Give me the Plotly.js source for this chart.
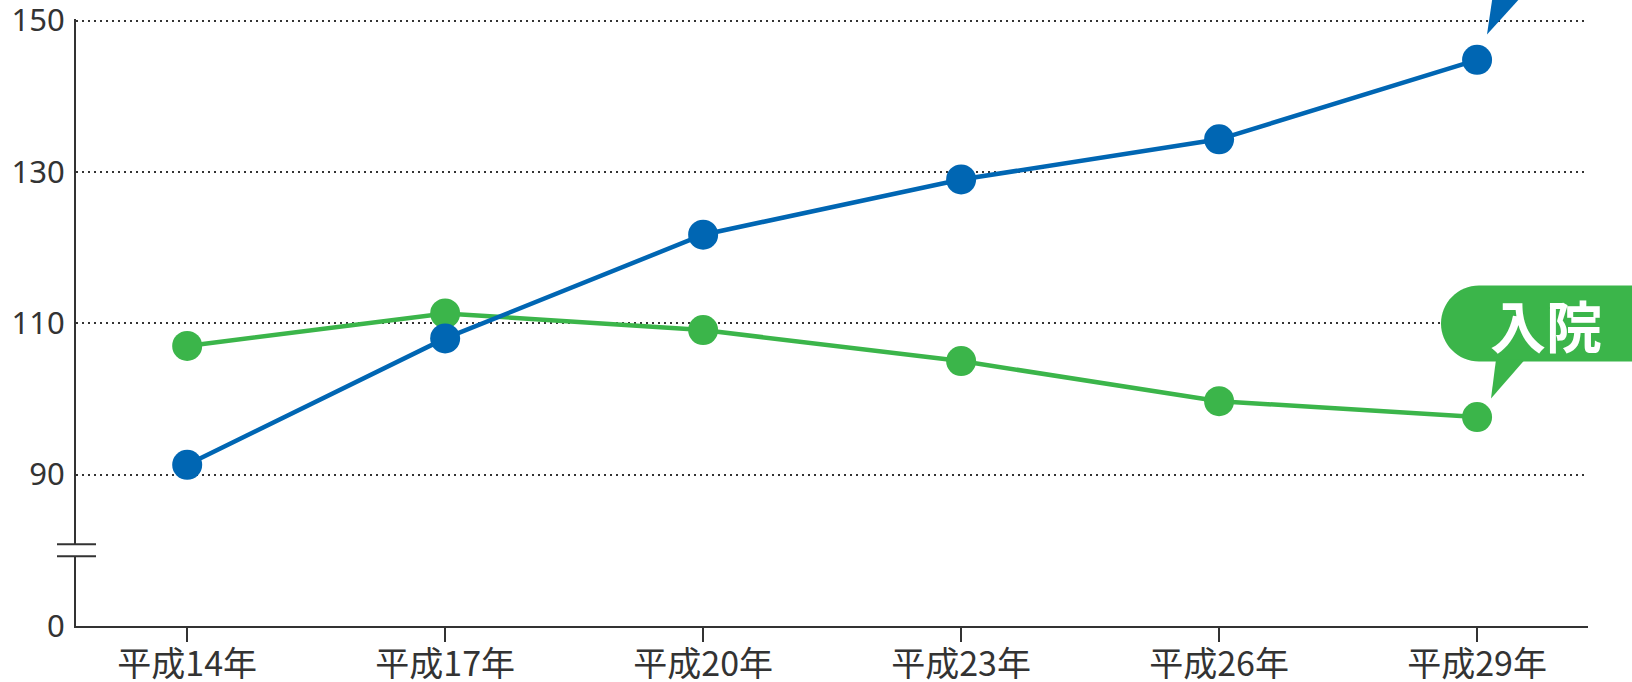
<!DOCTYPE html>
<html>
<head>
<meta charset="utf-8">
<script src="https://cdn.plot.ly/plotly-3.0.1.min.js"></script>
<style>
html,body{margin:0;padding:0;background:#fff;}
#chart{width:1632px;height:682px;}
</style>
</head>
<body>
<div id="chart"></div>
<script>
// ---- data ----
const categories = ['平成14年','平成17年','平成20年','平成23年','平成26年','平成29年'];
const outpatient = [91.3, 108.0, 121.7, 129.0, 134.3, 144.8];   // blue (外来)
const inpatient  = [107.0, 111.3, 109.1, 105.0, 99.7, 97.6];    // green (入院)
// broken axis: "0" is drawn one step below 90
const yTickVals = [70, 90, 110, 130, 150];
const yTickText = ['0', '90', '110', '130', '150'];
const inpatientLabel = '入院';

// ---- layout geometry ----
const W = 1632, H = 682;
const M = {l: 76, r: 44, t: 18.5, b: 56.3};
const PW = W - M.l - M.r, PH = H - M.t - M.b;
const px = x => (x - M.l) / PW;          // pixel -> paper x
const py = y => (H - M.b - y) / PH;      // pixel -> paper y
const P = (x, y) => px(x).toFixed(5) + ',' + py(y).toFixed(5);

const BLUE = '#0066b3', GREEN = '#3bb54a', INK = '#333333';

// rounded callout bubble (green), pixel geometry
const k = 0.5523;
const cx = 1479, cy = 323, r = 38;
const bubble = 'M' + P(cx, cy - r) + ' L' + P(1700, cy - r) + ' L' + P(1700, cy + r) + ' L' + P(cx, cy + r) +
  ' C' + P(cx - k * r, cy + r) + ' ' + P(cx - r, cy + k * r) + ' ' + P(cx - r, cy) +
  ' C' + P(cx - r, cy - k * r) + ' ' + P(cx - k * r, cy - r) + ' ' + P(cx, cy - r) + ' Z';
const greenPointer = 'M' + P(1496, cy + r - 2) + ' L' + P(1525, cy + r - 2) + ' L' + P(1491, 398) + ' Z';
const bluePointer = 'M' + P(1487, 34) + ' L' + P(1536, -20) + ' L' + P(1495, -20) + ' Z';

const traces = [
  {x: categories, y: inpatient, type: 'scatter', mode: 'lines+markers',
   line: {color: GREEN, width: 4.5}, marker: {color: GREEN, size: 30}, cliponaxis: false, hoverinfo: 'skip'},
  {x: categories, y: outpatient, type: 'scatter', mode: 'lines+markers',
   line: {color: BLUE, width: 4.5}, marker: {color: BLUE, size: 30}, cliponaxis: false, hoverinfo: 'skip'}
];

const layout = {
  width: W, height: H,
  margin: M,
  paper_bgcolor: '#fff', plot_bgcolor: '#fff',
  showlegend: false,
  font: {family: '"Noto Sans CJK JP", "Noto Sans", sans-serif', color: INK},
  xaxis: {
    type: 'category', range: [-0.431, 5.43],
    showgrid: false, zeroline: false,
    showline: true, linecolor: INK, linewidth: 2,
    ticks: 'outside', ticklen: 14, tickwidth: 1.5, tickcolor: INK,
    ticklabelstandoff: -7, ticklabeloverflow: 'allow',
    tickfont: {size: 34, color: INK, family: '"Noto Sans CJK JP", sans-serif'}, fixedrange: true
  },
  yaxis: {
    range: [70, 150.2],
    tickvals: yTickVals, ticktext: yTickText,
    showgrid: true, gridcolor: '#333', gridwidth: 2, griddash: '2px,4px',
    zeroline: false,
    showline: true, linecolor: INK, linewidth: 2,
    ticks: '', ticklabelstandoff: 3, ticklabeloverflow: 'allow',
    tickfont: {size: 31, color: INK, family: '"Noto Sans", sans-serif'}, fixedrange: true
  },
  shapes: [
    // axis break
    {type: 'rect', xref: 'paper', yref: 'paper', x0: px(70), x1: px(82), y0: py(556), y1: py(544),
     fillcolor: '#fff', line: {width: 0}, layer: 'above'},
    {type: 'line', xref: 'paper', yref: 'paper', x0: px(57), x1: px(96), y0: py(544), y1: py(544),
     line: {color: INK, width: 2}, layer: 'above'},
    {type: 'line', xref: 'paper', yref: 'paper', x0: px(57), x1: px(96), y0: py(556), y1: py(556),
     line: {color: INK, width: 2}, layer: 'above'},
    // callouts
    {type: 'path', xref: 'paper', yref: 'paper', path: bubble, fillcolor: GREEN, line: {width: 0}, layer: 'above'},
    {type: 'path', xref: 'paper', yref: 'paper', path: greenPointer, fillcolor: GREEN, line: {width: 0}, layer: 'above'},
    {type: 'path', xref: 'paper', yref: 'paper', path: bluePointer, fillcolor: BLUE, line: {width: 0}, layer: 'above'}
  ],
  annotations: [
    {xref: 'paper', yref: 'paper', x: px(1546), y: py(323), text: '<b>' + inpatientLabel + '</b>', showarrow: false,
     xanchor: 'center', yanchor: 'middle', font: {size: 56, color: '#fff', family: '"Noto Sans CJK JP", sans-serif'}}
  ]
};

Plotly.newPlot('chart', traces, layout, {displayModeBar: false, staticPlot: true});
</script>
</body>
</html>
